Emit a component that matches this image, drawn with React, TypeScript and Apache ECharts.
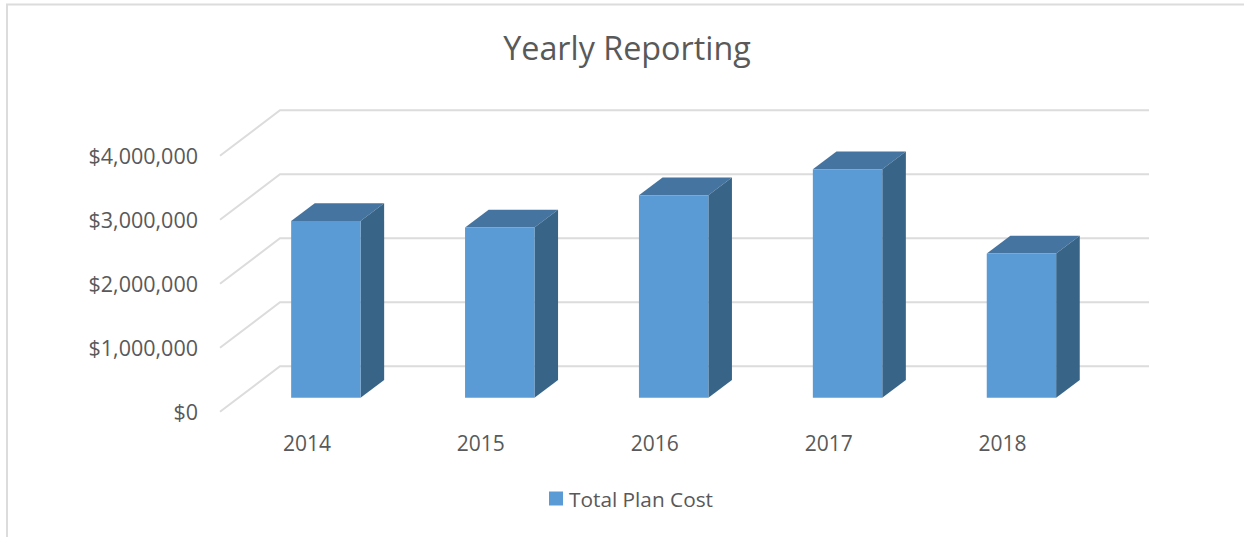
import React, { useEffect, useRef } from "react";
import * as echarts from "echarts";

const categories = ["2014", "2015", "2016", "2017", "2018"];
const totalPlanCost = [2760000, 2660000, 3165000, 3570000, 2255000];
const gridValues = [0, 1000000, 2000000, 3000000, 4000000];

const WALL_DX = 60;
const WALL_DY = -45.4;
const BAR_DX = 18.9;
const BAR_DY = -14;
const DEPTH_DX = 23.6;
const DEPTH_DY = -17.7;
const BAR_WIDTH = 69.4;

function money(v: number) {
  return "$" + v.toLocaleString("en-US");
}

export default function App() {
  const ref = useRef<HTMLDivElement>(null);
  useEffect(() => {
    const chart = echarts.init(ref.current!, null, { renderer: "svg" });
    const font = "Open Sans";
    chart.setOption({
      animation: false,
      backgroundColor: "#ffffff",
      textStyle: { fontFamily: font },
      title: {
        text: "Yearly Reporting",
        left: 622,
        top: 26,
        textAlign: "center",
        textStyle: { fontFamily: font, fontSize: 32.3, fontWeight: "normal", color: "#595959" },
      },
      legend: {
        data: [{ name: "Total Plan Cost", icon: "rect" }],
        left: 549,
        top: 488,
        padding: 0,
        itemWidth: 14,
        itemHeight: 14,
        itemGap: 6,
        textStyle: { fontFamily: font, fontSize: 20.8, color: "#595959", padding: [0, 0, 0, 1] },
      },
      grid: { left: 220, top: 155.7, width: 869.5, height: 256 },
      xAxis: {
        type: "category",
        data: categories,
        axisLine: { show: false },
        axisTick: { show: false },
        axisLabel: { fontFamily: font, fontSize: 21, color: "#595959", margin: 21 },
      },
      yAxis: {
        type: "value",
        min: 0,
        max: 4000000,
        interval: 1000000,
        splitLine: { show: false },
        axisLine: { show: false },
        axisTick: { show: false },
        axisLabel: {
          fontFamily: font,
          fontSize: 21.5,
          color: "#595959",
          margin: 22,
          padding: [0, 0, 2, 0],
          formatter: money,
        },
      },
      graphic: [
        {
          type: "polyline",
          shape: { points: [[7, 537], [7, 4.5], [1244, 4.5]] },
          style: { stroke: "#dcdcdc", lineWidth: 2, fill: "none" },
        },
      ],
      series: [
        {
          type: "custom",
          name: "Wall",
          silent: true,
          clip: false,
          z: 1,
          data: gridValues.map((v) => [0, v]),
          encode: { x: 0, y: 1 },
          renderItem: (params: any, api: any) => {
            const y = api.coord([0, api.value(1)])[1];
            const c = params.coordSys;
            return {
              type: "polyline",
              shape: {
                points: [
                  [c.x, y],
                  [c.x + WALL_DX, y + WALL_DY],
                  [c.x + c.width + WALL_DX - 0.5, y + WALL_DY],
                ],
              },
              style: { stroke: "#dcdcdc", lineWidth: 2, fill: "none" },
            };
          },
        },
        {
          type: "custom",
          name: "Total Plan Cost",
          clip: false,
          z: 2,
          itemStyle: { color: "#5b9bd5" },
          data: categories.map((c, i) => [i, totalPlanCost[i]]),
          encode: { x: 0, y: 1 },
          renderItem: (_params: any, api: any) => {
            const top = api.coord([api.value(0), api.value(1)]);
            const base = api.coord([api.value(0), 0]);
            const x0 = top[0] + BAR_DX - BAR_WIDTH / 2;
            const x1 = x0 + BAR_WIDTH;
            const yt = top[1] + BAR_DY;
            const yb = base[1] + BAR_DY;
            const dx = DEPTH_DX;
            const dy = DEPTH_DY;
            return {
              type: "group",
              children: [
                {
                  type: "polygon",
                  shape: { points: [[x0, yt], [x0 + dx, yt + dy], [x1 + dx, yt + dy], [x1, yt]] },
                  style: { fill: "#44749f" },
                },
                {
                  type: "polygon",
                  shape: { points: [[x1, yt], [x1 + dx, yt + dy], [x1 + dx, yb + dy], [x1, yb]] },
                  style: { fill: "#386487" },
                },
                {
                  type: "rect",
                  shape: { x: x0, y: yt, width: BAR_WIDTH, height: yb - yt },
                  style: { fill: "#5b9bd5" },
                },
              ],
            };
          },
        },
      ],
    });
    return () => chart.dispose();
  }, []);
  return <div ref={ref} style={{ position: "fixed", left: 0, top: 0, width: 1244, height: 537 }} />;
}
